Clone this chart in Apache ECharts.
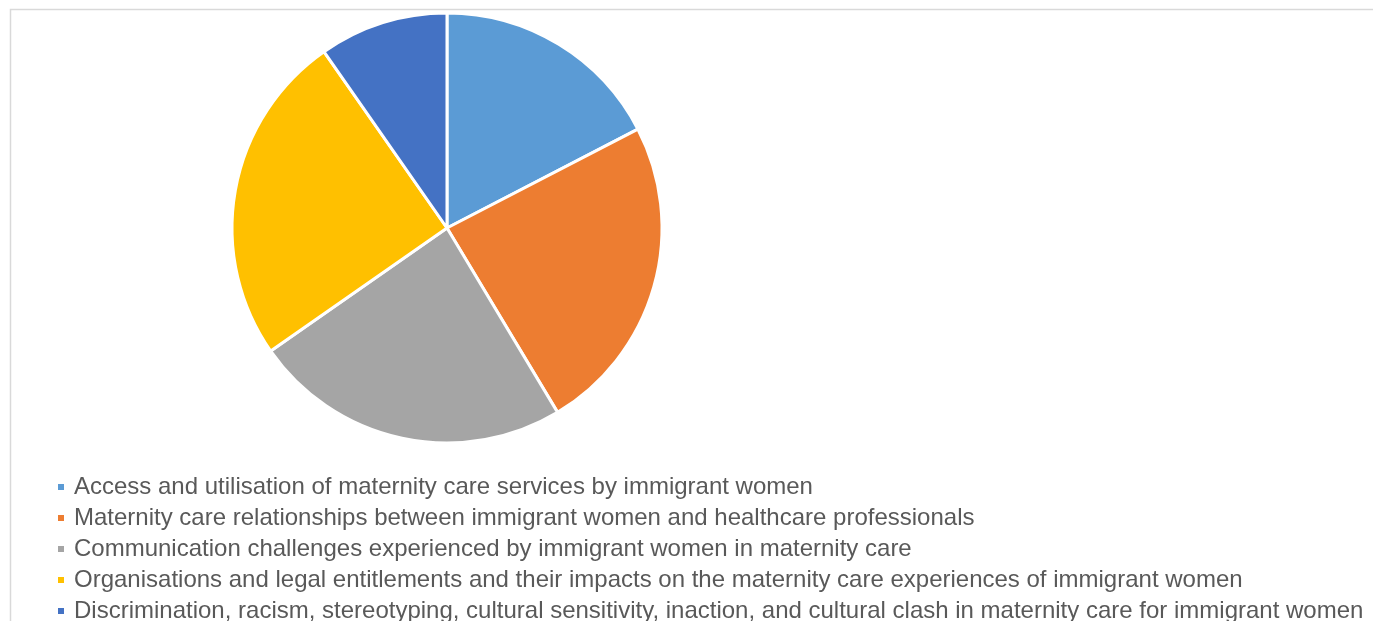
<!DOCTYPE html>
<html>
<head>
<meta charset="utf-8">
<script src="https://cdn.jsdelivr.net/npm/echarts@6/dist/echarts.min.js"></script>
<style>
html,body{margin:0;padding:0;background:#fff;}
#chart{width:1373px;height:621px;}
</style>
</head>
<body>
<div id="chart"></div>
<script>
const categories = [
  "Access and utilisation of maternity care services by immigrant women",
  "Maternity care relationships between immigrant women and healthcare professionals",
  "Communication challenges experienced by immigrant women in maternity care",
  "Organisations and legal entitlements and their impacts on the maternity care experiences of immigrant women",
  "Discrimination, racism, stereotyping, cultural sensitivity, inaction, and cultural clash in maternity care for immigrant women"
];
const values = [17.4, 24.0, 23.9, 25.0, 9.7];
const colors = ["#5b9bd5", "#ed7d31", "#a5a5a5", "#ffc000", "#4472c4"];

const chart = echarts.init(document.getElementById('chart'), null, {renderer: 'canvas'});
chart.setOption({
  animation: false,
  graphic: [{
    type: 'rect',
    shape: {x: 10.5, y: 9.5, width: 1500, height: 800},
    style: {fill: 'none', stroke: '#d9d9d9', lineWidth: 1.5},
    z: -10
  }],
  legend: {
    orient: 'vertical',
    left: 56,
    top: 475,
    height: 300,
    padding: 0,
    icon: 'rect',
    itemWidth: 8,
    itemHeight: 8,
    itemGap: 7,
    textStyle: {
      fontFamily: 'Liberation Sans, Arial, sans-serif',
      fontSize: 24,
      lineHeight: 24,
      color: '#595959',
      padding: [0, 0, 0, 4]
    },
    data: categories
  },
  series: [{
    type: 'pie',
    center: [447, 228],
    radius: 215,
    startAngle: 90,
    clockwise: true,
    label: {show: false},
    labelLine: {show: false},
    emphasis: {disabled: true},
    itemStyle: {borderColor: '#ffffff', borderWidth: 3},
    data: categories.map((c, i) => ({name: c, value: values[i], itemStyle: {color: colors[i]}}))
  }]
});
</script>
</body>
</html>
